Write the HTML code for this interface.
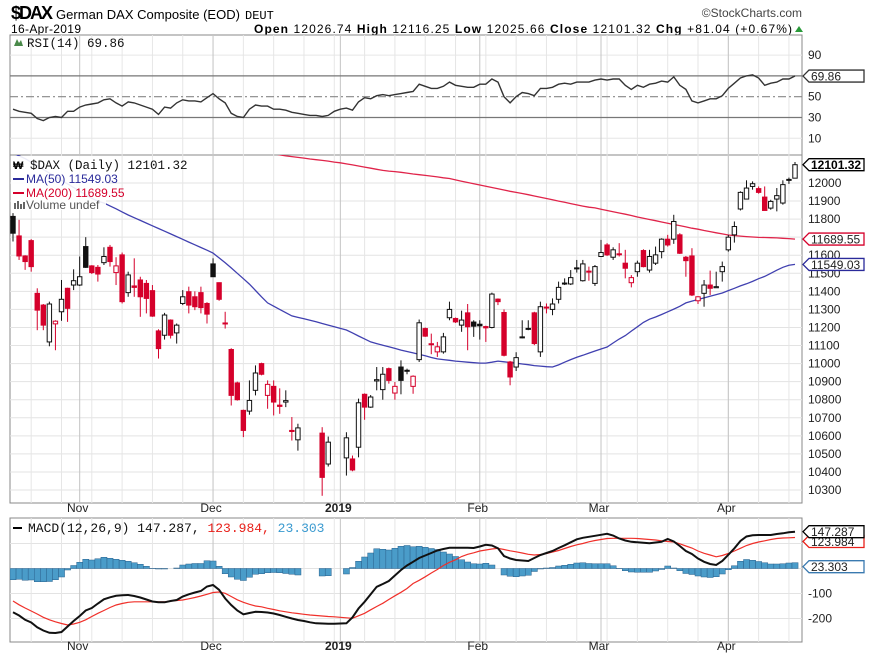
<!DOCTYPE html>
<html><head><meta charset="utf-8">
<style>
body{margin:0;background:#fff;width:875px;height:660px;overflow:hidden;font-family:"Liberation Sans",Arial,sans-serif}
svg text{font-family:"Liberation Sans",Arial,sans-serif}
.mono{font-family:"Liberation Mono","DejaVu Sans Mono",monospace}
</style></head>
<body>
<svg id="chart" width="875" height="660" viewBox="0 0 875 660" xmlns="http://www.w3.org/2000/svg">
  <defs>
    <clipPath id="clipMain"><rect x="10" y="155" width="792" height="348"/></clipPath>
    <clipPath id="clipRsi"><rect x="10" y="35" width="792" height="120"/></clipPath>
    <clipPath id="clipMacd"><rect x="10" y="518" width="792" height="124"/></clipPath>
  </defs>
  <text x="11" y="19" font-size="18" font-weight="bold" textLength="42">$DAX</text>
  <text x="56" y="19" font-size="13" textLength="184">German DAX Composite (EOD)</text>
  <text x="245" y="19" font-size="12" class="mono">DEUT</text>
  <text x="802" y="17" font-size="12" text-anchor="end" fill="#444">©StockCharts.com</text>
  <text x="11" y="33" font-size="12" textLength="70">16-Apr-2019</text>
  <text x="254" y="33" font-size="12" textLength="538"><tspan font-weight="bold">Open</tspan> 12026.74 <tspan font-weight="bold">High</tspan> 12116.25 <tspan font-weight="bold">Low</tspan> 12025.66 <tspan font-weight="bold">Close</tspan> 12101.32 <tspan font-weight="bold">Chg</tspan> +81.04 (+0.67%)</text>
  <polygon points="795,32 803,32 799,26" fill="#2a9a3a"/>

  <rect x="10" y="35" width="792" height="120" fill="#fff" stroke="#888" stroke-width="1"/>
  <rect x="10" y="155" width="792" height="348" fill="#fff" stroke="#888" stroke-width="1"/>
  <rect x="10" y="518" width="792" height="124" fill="#fff" stroke="#888" stroke-width="1"/>
  <g id="grid"></g>
  <g id="rsiLayer" clip-path="url(#clipRsi)"></g>
  <g id="maLayer" clip-path="url(#clipMain)"></g>
  <g id="candleLayer" clip-path="url(#clipMain)"></g>
  <g id="macdLayer" clip-path="url(#clipMacd)"></g>
  <g id="axisLayer"></g>

  <g>
    <polygon points="14,46 17,39 19,43 21,40 23,46" fill="#4a8a4a"/>
    <text x="27" y="47" font-size="12.5" class="mono" fill="#111">RSI(14) 69.86</text>
  </g>
  <g>
    <rect x="11" y="156" width="95" height="54" fill="#fff" opacity="0.9"/>
    <text x="13" y="169" font-size="11" font-weight="bold">₩</text>
    <text x="30" y="169" font-size="12.5" class="mono" fill="#111">$DAX (Daily) 12101.32</text>
    <line x1="13" y1="179" x2="24" y2="179" stroke="#2a2a9a" stroke-width="2"/>
    <text x="26" y="183" font-size="12" fill="#2a2a9a">MA(50) 11549.03</text>
    <line x1="13" y1="193" x2="24" y2="193" stroke="#d5002b" stroke-width="2"/>
    <text x="26" y="197" font-size="12" fill="#d5002b">MA(200) 11689.55</text>
    <rect x="14" y="203" width="2" height="6" fill="#666"/><rect x="17" y="201" width="2" height="8" fill="#666"/><rect x="20" y="204" width="2" height="5" fill="#666"/><rect x="23" y="202" width="2" height="7" fill="#666"/>
    <text x="26" y="209" font-size="12" fill="#555">Volume undef</text>
  </g>
  <g>
    <line x1="13" y1="528" x2="22" y2="528" stroke="#000" stroke-width="2"/>
    <text x="28" y="532" font-size="13" class="mono" fill="#111">MACD(12,26,9) 147.287, <tspan fill="#e8201a">123.984,</tspan> <tspan fill="#3a9ad0">23.303</tspan></text>
  </g>
</svg>
<script>
const priceTicks=[10300,10400,10500,10600,10700,10800,10900,11000,11100,11200,11300,11400,11500,11600,11700,11800,11900,12000];
const rsiTicks=[90,50,30,10];
const macdTicks=[100,-100,-200];
const monthLabels=['Nov','Dec','2019','Feb','Mar','Apr'];
const monthIndex=[11,33,54,77,97,118];
const openP=[11815,11707,11596,11681,11389,11324,11120,11220,11287,11417,11435,11435,11648,11541,11533,11559,11644,11504,11602,11393,11430,11463,11444,11404,11181,11157,11241,11170,11333,11398,11370,11393,11333,11552,11448,11225,11078,10893,10741,10737,10852,11000,10824,10874,10770,10787,10630,10578,null,null,null,10615,10444,null,null,10478,10472,10537,10830,10759,10904,10856,10972,10837,10981,10963,10874,11022,11194,11110,11065,11065,11254,11250,11213,11281,11230,11218,11205,11200,11357,11283,11009,10981,11148,11195,11281,11065,11308,11300,11356,11446,11441,11530,11459,11512,11444,11593,11657,11589,11608,11556,11448,11509,11626,11518,11556,11620,11689,11689,11713,11589,11596,11348,11389,11435,11420,11509,11630,11713,11856,11911,11981,11969,11922,11861,11911,11889,12018,12026.74];
const highP=[11833,11796,11600,11689,11417,11330,11343,11240,11463,11420,11522,11593,11700,11545,11546,11644,11657,11589,11615,11509,11583,11481,11463,11435,11190,11281,11245,11222,11407,11426,11400,11426,11340,11583,11450,11287,11085,10900,10745,10907,10990,11005,10907,10907,10863,10852,10704,10667,null,null,null,10648,10596,null,null,10620,10491,10806,10835,10826,10981,10981,10978,10898,11018,10972,10935,11244,11200,11166,11120,11170,11343,11255,11293,11330,11240,11240,11210,11393,11361,11300,11015,11063,11240,11240,11287,11343,11333,11361,11454,11472,11518,11574,11574,11537,11546,11685,11667,11644,11667,11630,11490,11570,11633,11630,11648,11694,11713,11824,11722,11596,11639,11373,11463,11515,11509,11565,11713,11787,11954,12015,12009,11981,11981,11907,11972,12015,12030,12116.25];
const lowP=[11676,11574,11519,11509,11185,11185,11096,11074,11237,11231,11407,11430,11530,11496,11454,11546,11537,11435,11333,11370,11370,11259,11278,11259,11028,11133,11139,11111,11324,11278,11296,11278,11222,11480,11348,11194,10768,10795,10593,10717,10824,10935,10750,10713,10722,10759,10574,10518,null,null,null,10268,10430,null,null,10380,10404,10481,10689,10755,10852,10800,10889,10800,10830,10941,10833,11009,11148,11052,11037,11055,11240,11225,11176,11074,11148,11133,11120,11195,11324,11040,10880,10959,11140,11185,11102,11037,11278,11268,11333,11435,11435,11504,11454,11459,11430,11590,11596,11574,11593,11472,11422,11481,11533,11504,11546,11583,11648,11663,11607,11481,11374,11330,11315,11380,11420,11454,11620,11670,11848,11911,11963,11941,11848,11852,11843,11880,11995,12025.66];
const closeP=[11722,11596,11565,11537,11296,11213,11330,11235,11356,11306,11459,11481,11533,11504,11496,11593,11565,11541,11343,11491,11422,11370,11361,11263,11083,11269,11157,11213,11370,11324,11315,11310,11274,11481,11356,11220,10824,10800,10630,10796,10948,10941,10885,10787,10763,10795,10624,10644,null,null,null,10370,10565,null,null,10589,10411,10783,10759,10815,10911,10941,10907,10874,10907,10959,10930,11226,11152,11105,11093,11148,11300,11231,11241,11204,11207,11209,11198,11385,11343,11046,10926,11033,11145,11194,11111,11315,11313,11330,11422,11444,11476,11526,11552,11509,11537,11615,11602,11630,11603,11528,11476,11556,11537,11593,11602,11689,11657,11787,11611,11570,11380,11370,11435,11417,11426,11537,11700,11759,11948,11972,11996,11948,11848,11898,11930,11991,12020,12101.32];
const ma50=[12165,12150,12135,12115,12095,12075,12055,12035,12015,11995,11975,11955,11935,11915,11900,11889,11873,11857,11840,11823,11808,11793,11778,11763,11748,11733,11718,11703,11688,11673,11658,11643,11628,11612,11585,11558,11530,11500,11470,11440,11405,11370,11336,11318,11300,11282,11264,11256,11248,11240,11232,11222,11213,11204,11195,11186,11170,11153,11137,11120,11111,11102,11093,11084,11075,11067,11059,11051,11043,11034,11026,11022,11018,11014,11011,11008,11005,11003,11003,11008,11014,11010,11006,11002,10998,10994,10989,10986,10983,10981,10993,11008,11022,11035,11046,11058,11070,11081,11092,11114,11136,11155,11180,11204,11228,11246,11258,11272,11287,11302,11317,11336,11346,11355,11364,11373,11382,11391,11404,11417,11430,11442,11455,11470,11483,11500,11517,11533,11545,11549.03];
const ma200=[12420,12414,12408,12402,12396,12390,12384,12378,12372,12366,12360,12354,12348,12342,12336,12330,12324,12318,12312,12306,12300,12294,12288,12282,12276,12270,12264,12258,12252,12246,12240,12234,12228,12222,12216,12210,12204,12198,12192,12186,12180,12174,12168,12162,12156,12150,12146,12142,12138,12133,12129,12125,12121,12116,12112,12106,12100,12094,12088,12082,12076,12070,12066,12063,12059,12055,12050,12046,12042,12038,12034,12029,12025,12017,12010,12003,11996,11989,11982,11975,11968,11961,11954,11948,11942,11935,11928,11921,11914,11907,11900,11893,11886,11879,11872,11866,11862,11855,11848,11841,11834,11827,11820,11812,11805,11798,11791,11784,11777,11770,11764,11757,11750,11744,11737,11731,11724,11718,11712,11709,11706,11703,11701,11699,11698,11697,11696,11694,11692,11689.55];
const rsi=[38,36,35,34,29,27,30,31,30,36,36,40,42,43,44,47,48,44,41,45,44,42,40,38,33,40,39,44,47,46,46,45,49,53,48,44,34,31,30,38,42,41,41,38,38,37,35,34,33,32,32,31,32,36,38,39,37,45,49,48,51,52,51,52,53,54,55,62,60,58,58,60,64,61,60,59,59,62,62,67,64,50,44,50,54,53,51,58,58,59,62,63,62,64,64,64,66,67,66,67,67,61,57,61,59,62,63,65,64,69,61,57,46,44,46,48,48,51,58,63,68,70,71,68,61,63,64,67,67,69.86];
const macd=[-175,-188,-205,-216,-235,-248,-257,-258,-254,-232,-210,-190,-168,-158,-140,-123,-115,-109,-107,-106,-110,-116,-124,-132,-135,-135,-130,-126,-112,-103,-96,-90,-72,-66,-85,-120,-146,-168,-183,-178,-173,-174,-176,-180,-186,-193,-200,-206,-210,-215,-219,-220,-221,-221,-220,-219,-195,-160,-133,-103,-73,-62,-50,-28,-6,12,27,42,52,62,72,78,83,83,83,83,82,88,95,92,81,50,40,34,32,30,42,54,62,70,82,93,105,117,123,127,131,135,139,132,120,112,107,105,103,101,104,107,118,108,90,70,58,40,27,18,14,30,55,81,110,128,133,134,134,134,138,141,145,147.287];
const signal=[-130,-145,-158,-170,-182,-195,-205,-213,-220,-226,-222,-215,-205,-192,-179,-168,-156,-146,-140,-135,-133,-133,-133,-133,-133,-133,-130,-128,-126,-121,-116,-110,-103,-96,-94,-99,-112,-125,-135,-143,-150,-153,-159,-164,-169,-173,-177,-180,-183,-186,-188,-190,-192,-193,-195,-197,-199,-189,-179,-165,-152,-139,-124,-109,-95,-80,-60,-47,-33,-18,-4,12,25,35,48,57,63,70,74,78,81,76,71,67,62,57,54,56,60,66,72,80,88,95,100,107,112,116,120,121,121,121,121,120,118,116,114,111,108,106,99,90,82,70,61,54,47,52,60,70,81,92,100,106,111,116,120,122,123,123.984];
const histogram=macd.map((m,i)=>closeP[i]==null?null:m-signal[i]);

const NS='http://www.w3.org/2000/svg';
const svg=document.getElementById('chart');
const X0=13, STEP=(795-13)/129;
function xOf(i){return X0+i*STEP;}
function yP(p){return 183+(12000-p)*0.1806;}
function yR(r){return 96.7-(r-50)*1.04;}
function yM(v){return 568.5-v*0.25;}
function mk(tag,attrs,parent){const e=document.createElementNS(NS,tag);for(const k in attrs)e.setAttribute(k,attrs[k]);parent.appendChild(e);return e;}
const grid=document.getElementById('grid');
const axis=document.getElementById('axisLayer');

// horizontal grid
priceTicks.forEach(t=>{
  const l=mk('line',{x1:10,x2:802,y1:yP(t),y2:yP(t),stroke:'#e3e3e3','stroke-width':1},grid);
  
  
  const tx=mk('text',{x:808,y:yP(t)+4,'font-size':12,fill:'#222'},axis);
  
  
  tx.textContent=t;
});
[90,10].forEach(t=>{
  const l=mk('line',{x1:10,x2:802,y1:yR(t),y2:yR(t),stroke:'#e6e6e6'},grid);
  
  
});
rsiTicks.forEach(t=>{
  const tx=mk('text',{x:808,y:yR(t)+4,'font-size':12,fill:'#222'},axis);
  
  
  tx.textContent=t;
});
[100,0,-100,-200].forEach(t=>{
  const l=mk('line',{x1:10,x2:802,y1:yM(t),y2:yM(t),stroke:'#e3e3e3'},grid);
  
  
});
macdTicks.forEach(t=>{
  const tx=mk('text',{x:808,y:yM(t)+4,'font-size':12,fill:'#222'},axis);
  
  
  tx.textContent=t;
});
// vertical grid
const panels=[[35,155],[155,503],[518,642]];
for(let i=3;i<closeP.length;i+=5){
  panels.forEach(p=>{
    const l=mk('line',{x1:xOf(i),x2:xOf(i),y1:p[0],y2:p[1],stroke:'#e6e6e6'},grid);
    
    
  });
}
monthIndex.forEach((mi,k)=>{
  panels.forEach(p=>{
    const l=mk('line',{x1:xOf(mi),x2:xOf(mi),y1:p[0],y2:p[1],stroke:'#c4c4c4'},grid);
    
    
  });
  [512,650].forEach(yy=>{
    const tx=mk('text',{x:xOf(mi)-2,y:yy,'font-size':12,'text-anchor':'middle',fill:'#222','font-weight':monthLabels[k]==='2019'?'bold':'normal'},axis);
    
    
    tx.textContent=monthLabels[k];
  });
});
// RSI reference lines
[[70,'#777',''],[30,'#777',''],[50,'#888','8,3,2,3']].forEach(r=>{
  const l=mk('line',{x1:10,x2:802,y1:yR(r[0]),y2:yR(r[0]),stroke:r[1],'stroke-width':1.2,'stroke-dasharray':r[2]},grid);
  
  
});
function linePts(arr,yf){return arr.map((v,i)=>v==null?null:xOf(i).toFixed(1)+','+yf(v).toFixed(1)).filter(s=>s).join(' ');}
// RSI
const rsiLine=mk('polyline',{points:linePts(rsi,yR),fill:'none',stroke:'#333','stroke-width':1.4},document.getElementById('rsiLayer'));


// MAs
const maL=document.getElementById('maLayer');
const m200=mk('polyline',{points:linePts(ma200,yP),fill:'none',stroke:'#e0244a','stroke-width':1.3},maL);


const m50=mk('polyline',{points:linePts(ma50,yP),fill:'none',stroke:'#4040b0','stroke-width':1.3},maL);


// candles
const cl=document.getElementById('candleLayer');
let prev=null;
for(let i=0;i<closeP.length;i++){
  if(closeP[i]==null)continue;
  const o=openP[i],c=closeP[i],h=highP[i],lo=lowP[i];
  const col=(prev!=null&&c<prev)?'#d5002b':'#111';
  const x=xOf(i);
  const g=mk('g',{},cl);
  
  
  mk('line',{x1:x,x2:x,y1:yP(h),y2:yP(lo),stroke:col,'stroke-width':1},g);
  const top=yP(Math.max(o,c)),bot=yP(Math.min(o,c));
  mk('rect',{x:x-2.2,y:top,width:4.4,height:Math.max(1,bot-top),fill:c>=o?'#fff':col,stroke:col,'stroke-width':1},g);
  prev=c;
}
// MACD
const ml=document.getElementById('macdLayer');
histogram.forEach((h,i)=>{
  if(h==null)return;
  const y0=yM(0),y1=yM(h);
  const b=mk('rect',{x:xOf(i)-3,y:Math.min(y0,y1),width:STEP,height:Math.abs(y1-y0),fill:'#4a9cc9',stroke:'#2b628e','stroke-width':0.5},ml);
  
  
});
const sg=mk('polyline',{points:linePts(signal,yM),fill:'none',stroke:'#f0302a','stroke-width':1.2},ml);


const md=mk('polyline',{points:linePts(macd,yM),fill:'none',stroke:'#111','stroke-width':2},ml);


// value tags
function tag(name,y,txt,col,bold){
  const g=mk('g',{},axis);
  
  
  mk('polygon',{points:`803,${y} 809,${y-6} 864,${y-6} 864,${y+6} 809,${y+6}`,fill:'#fff',stroke:col,'stroke-width':1.3},g);
  const t=mk('text',{x:811,y:y+4.5,'font-size':12,fill:bold?'#000':'#222','font-weight':bold?'bold':'normal'},g);
  t.textContent=txt;
}
tag('ma200-value-tag',yP(ma200[129]),'11689.55','#d5002b',false);
tag('ma50-value-tag',yP(ma50[129]),'11549.03','#2a2a9a',false);
tag('close-value-tag',yP(closeP[129]),'12101.32','#000',true);
tag('rsi-value-tag',yR(rsi[129]),'69.86','#333',false);
tag('signal-value-tag',yM(signal[129])+4,'123.984','#e8201a',false);
tag('macd-value-tag',yM(macd[129]),'147.287','#000',false);
tag('histogram-value-tag',yM(histogram[129])+4,'23.303','#3a7ab0',false);
</script>
</body></html>
